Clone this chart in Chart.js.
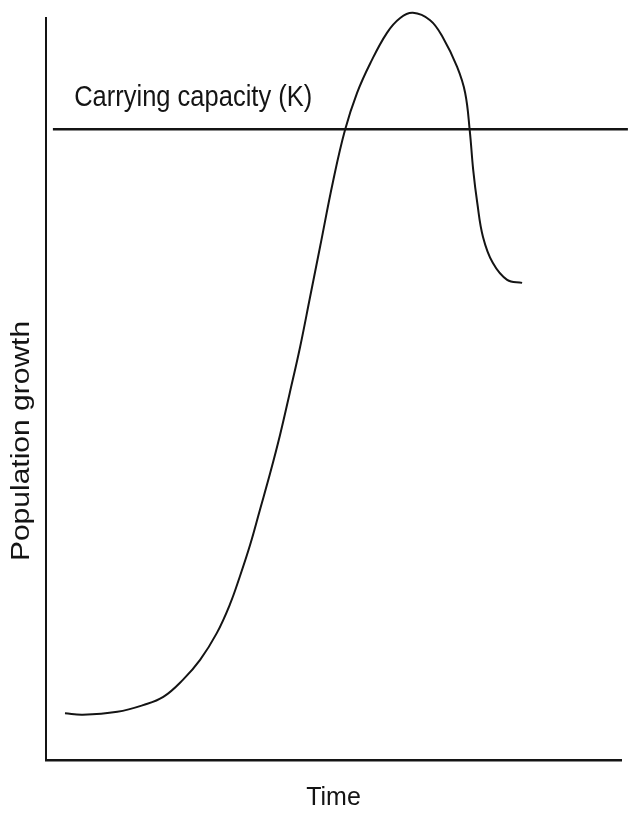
<!DOCTYPE html>
<html>
<head>
<meta charset="utf-8">
<script src="https://cdn.jsdelivr.net/npm/chart.js@4/dist/chart.umd.min.js"></script>
<style>
  html, body { margin: 0; padding: 0; background: #ffffff; }
  #wrap { width: 628px; height: 815px; position: relative; }
</style>
</head>
<body>
<div id="wrap"><canvas id="c"></canvas></div>
<script>
// ---- data ----
const timeValues = [3.3, 6.4, 12.4, 16.9, 20.4, 23.8, 26.8, 29.7, 32.0, 33.7, 35.5, 37.2, 39.0, 40.7, 42.4, 44.2, 45.9, 47.7, 49.9, 52.0, 54.1, 56.4, 59.3, 61.6, 63.8, 66.8, 69.0, 71.5, 72.9, 73.7, 74.3, 75.0, 76.0, 77.7, 80.2, 82.8];
const populationValues = [6.3, 6.1, 6.5, 7.4, 8.5, 10.8, 13.5, 17.1, 21.0, 24.7, 29.0, 33.7, 38.7, 43.8, 49.5, 55.7, 62.3, 69.3, 77.9, 84.9, 89.9, 93.9, 98.0, 100.0, 100.7, 99.7, 97.4, 93.4, 89.9, 84.8, 79.5, 75.1, 70.5, 67.0, 64.7, 64.3];
const carryingCapacity = 85;
const kLineX = [1.2, 101.2];
const kLabel = "Carrying capacity (K)";
const xTitle = "Time";
const yTitle = "Population growth";

const FONT = "'Liberation Sans', Arial, Helvetica, sans-serif";
const INK = "#141414";

const curve = timeValues.map((t, i) => ({ x: t, y: populationValues[i] }));
const kLine = kLineX.map(x => ({ x: x, y: carryingCapacity }));

const labelPlugin = {
  id: 'labels',
  afterDraw(chart) {
    const ctx = chart.ctx;
    const xs = chart.scales.x, ys = chart.scales.y;
    const area = chart.chartArea;
    ctx.save();
    ctx.fillStyle = INK;
    ctx.font = "25px " + FONT;
    // carrying capacity label, above the K line
    const lx = xs.getPixelForValue(4.9);
    const ly = ys.getPixelForValue(carryingCapacity) - 23;
    ctx.save();
    ctx.translate(lx, ly);
    ctx.scale(1.02, 1.15);
    ctx.textAlign = 'left';
    ctx.textBaseline = 'alphabetic';
    ctx.fillText(kLabel, 0, 0);
    ctx.restore();
    // y axis title, rotated
    ctx.save();
    ctx.translate(22, (area.top + area.bottom) / 2 + 52);
    ctx.rotate(-Math.PI / 2);
    ctx.scale(1.2, 1.0);
    ctx.textAlign = 'center';
    ctx.textBaseline = 'middle';
    ctx.fillText(yTitle, 0, 0);
    ctx.restore();
    ctx.restore();
  }
};

new Chart(document.getElementById('c'), {
  type: 'line',
  data: {
    datasets: [
      {
        label: 'Population',
        data: curve,
        borderColor: INK,
        borderWidth: 2,
        pointRadius: 0,
        fill: false,
        tension: 0.4,
        clip: false
      },
      {
        label: 'Carrying capacity (K)',
        data: kLine,
        borderColor: INK,
        borderWidth: 2.5,
        pointRadius: 0,
        fill: false,
        clip: false
      }
    ]
  },
  options: {
    responsive: true,
    maintainAspectRatio: false,
    animation: false,
    events: [],
    layout: { padding: { left: 46, right: 7, top: 18, bottom: 0 } },
    plugins: { legend: { display: false }, tooltip: { enabled: false } },
    scales: {
      x: {
        type: 'linear',
        min: 0,
        max: 100,
        grid: { display: false, drawTicks: false },
        border: { display: true, color: INK, width: 2.5 },
        ticks: { display: false },
        title: {
          display: true,
          text: xTitle,
          color: INK,
          font: { family: FONT, size: 25 },
          padding: { top: 23, bottom: 2 }
        }
      },
      y: {
        type: 'linear',
        min: 0,
        max: 100,
        grid: { display: false, drawTicks: false },
        border: { display: true, color: INK, width: 2 },
        ticks: { display: false }
      }
    }
  },
  plugins: [labelPlugin]
});
</script>
</body>
</html>
